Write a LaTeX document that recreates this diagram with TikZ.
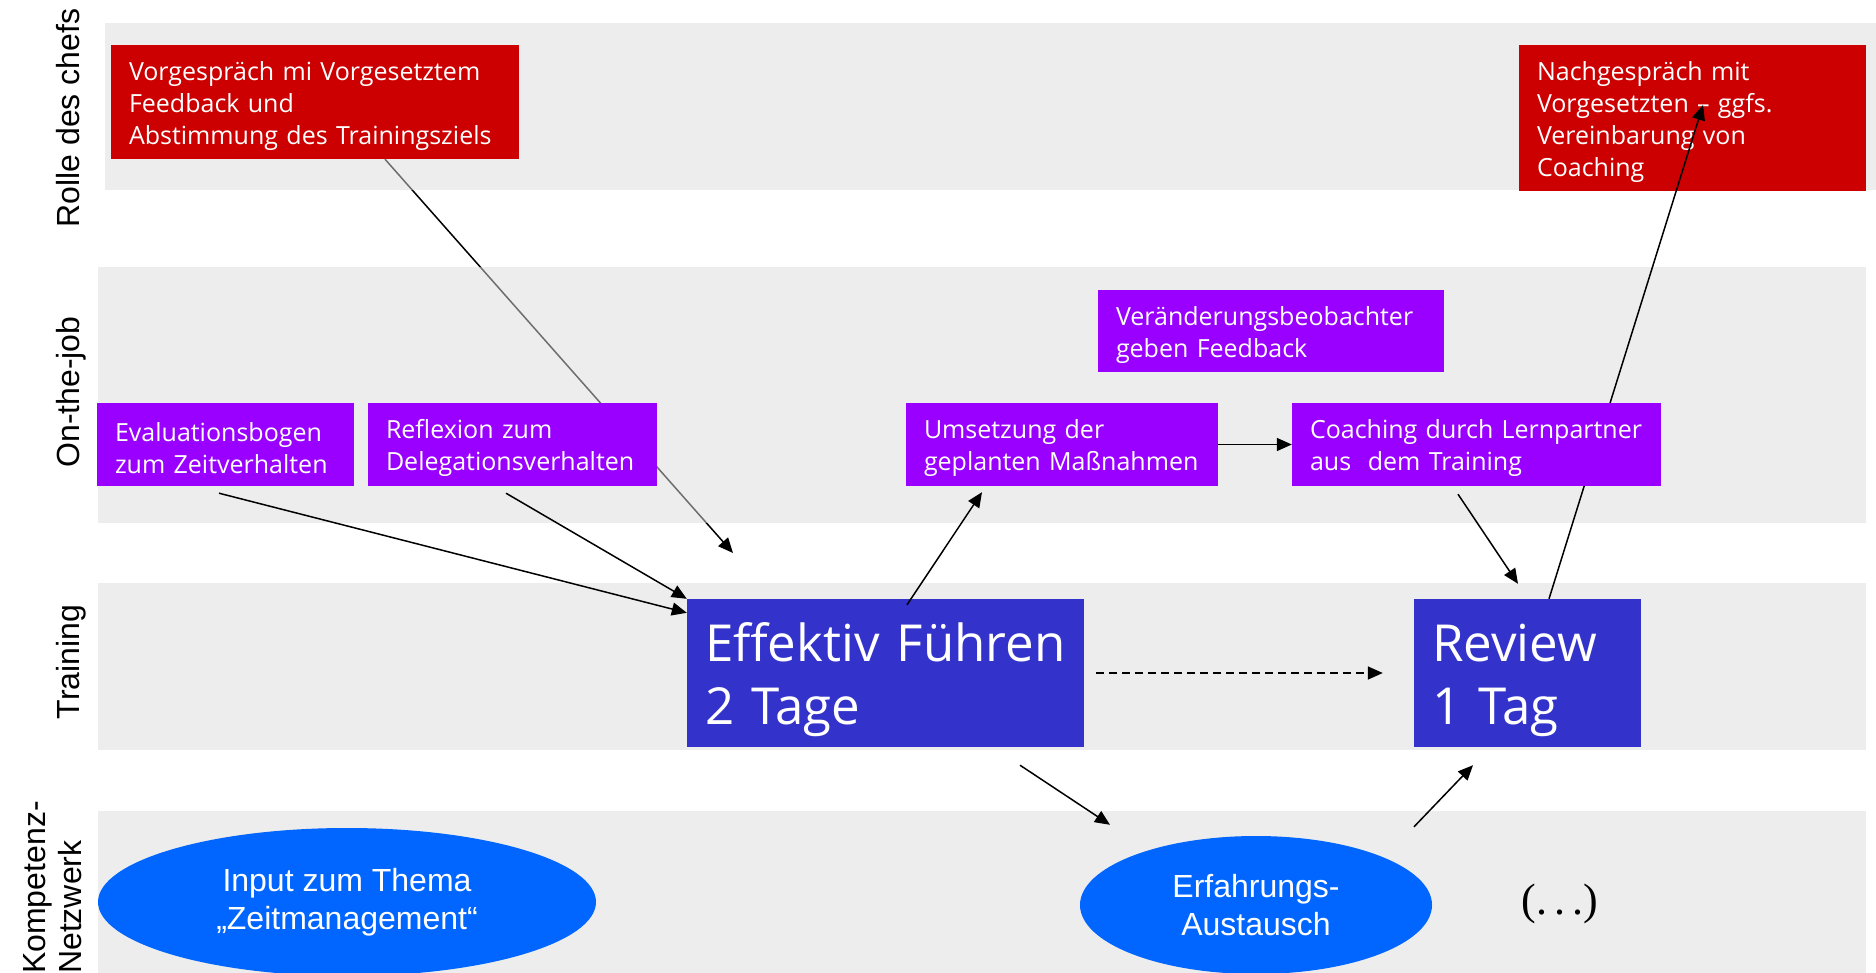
\documentclass[tikz,border=0pt]{standalone}
\usepackage{fontspec}
\usepackage{tikz}
\usetikzlibrary{arrows.meta, calc, shapes.geometric, backgrounds}

\newfontfamily\boxfont{Open Sans}
\newfontfamily\lanefont{Liberation Sans}
\newfontfamily\morefont{Liberation Serif}
\definecolor{chefred}{HTML}{CC0000}
\definecolor{jobviolet}{HTML}{9900FF}
\definecolor{trainblue}{HTML}{3333CC}
\definecolor{netblue}{HTML}{0066FF}
\definecolor{lanegrey}{HTML}{DBDBDB}

\begin{document}
\begin{tikzpicture}[x=1pt, y=-1pt,
	chef/.style={fill=chefred, text=white, align=left, inner xsep=18pt, inner ysep=0pt,
		font=\boxfont\fontsize{25}{32}\selectfont, execute at begin node={\rule{0pt}{27pt}}},
	job/.style={chef, fill=jobviolet},
	course/.style={fill=trainblue, text=white, align=left, inner xsep=18pt, inner ysep=0pt,
		font=\boxfont\fontsize{51}{63}\selectfont, execute at begin node={\rule{0pt}{53pt}}},
	net/.style={ellipse, fill=netblue, text=white, align=center, inner sep=0pt,
		font=\lanefont\fontsize{32}{38}\selectfont},
	lane/.style={fill=lanegrey, fill opacity=.5},
	lanelabel/.style={rotate=90, inner sep=0pt, font=\lanefont\fontsize{32}{36}\selectfont},
	arr/.style={-{Triangle[length=15pt, width=13pt]}, line width=1.5pt}]
	\useasboundingbox (0,0) rectangle (1876,973);
	\clip (0,0) rectangle (1876,973);
	
	% lane titles
	\node[lanelabel, anchor=base] (lchef) at (79,118) {Rolle des chefs};
	\node[lanelabel, anchor=base] (ljob) at (79,392) {On-the-job};
	\node[lanelabel, anchor=base] (ltrain) at (79,662) {Training};
	\node[lanelabel, align=left, anchor=south west] (lnet) at (82,974) {Kompetenz-\\Netzwerk};
	
	\node[chef, text width=372pt, minimum height=114pt] (vgs) at (315,102) {Vorgespräch mi Vorgesetztem\\Feedback und\\Abstimmung des Trainingsziels};
	\node[chef, text width=311pt, minimum height=146pt] (nach) at (1692.5,118) {Nachgespräch mit\\Vorgesetzten – ggfs.\\Vereinbarung von\\Coaching};
	
	\node[job, text width=310pt, minimum height=82pt] (beob) at (1271,331) {Veränderungsbeobachter\\geben Feedback};
	\node[job, text width=221pt, minimum height=83pt] (eval) at (225.5,444.5) {Evaluationsbogen\\zum Zeitverhalten};
	\node[job, text width=253pt, minimum height=83pt] (refl) at (512.5,444.5) {Reflexion zum\\Delegationsverhalten};
	\node[job, text width=276pt, minimum height=83pt] (ums) at (1062,444.5) {Umsetzung der\\geplanten Maßnahmen};
	
	\node[course, text width=361pt, minimum height=148pt] (eff) at (885.5,673) {Effektiv Führen\\2 Tage};
	\node[course, text width=191pt, minimum height=148pt] (rev) at (1527.5,673) {Review\\1 Tag};
	
	\node[net, minimum width=498pt, minimum height=148pt] (inp) at (347,902) {Input zum Thema\\„Zeitmanagement“};
	\node[net, minimum width=352pt, minimum height=138pt] (erf) at (1256,905) {Erfahrungs-\\Austausch};
	\node[font=\morefont\fontsize{44}{52}\selectfont, inner sep=0pt] (more) at (1560,904) {(.\kern7pt.\kern7pt.)};
	
	\coordinate (tipA) at (733,553);
	\coordinate (tipB) at (1703,105);
	
	\draw[arr] ([xshift=21.5pt]rev.north) -- (tipB); % runs behind the coaching box
	\node[job, text width=333pt, minimum height=83pt] (coach) at (1476.5,444.5) {Coaching durch Lernpartner\\aus\ \ dem Training};
	
	\draw[arr] ([xshift=-6.5pt, yshift=-7pt]eval.south) -- ([yshift=-14pt]eff.north west);
	\draw[arr] ([xshift=-6.5pt, yshift=-7pt]refl.south) -- (eff.north west);
	\draw[arr] ([xshift=21.5pt, yshift=-6pt]eff.north) -- ([xshift=-80pt, yshift=-6pt]ums.south);
	\draw[arr] (ums.east) -- (coach.west);
	\draw[arr] ([xshift=-18.5pt, yshift=-8pt]coach.south) -- ([xshift=-9.5pt, yshift=15pt]rev.north);
	\draw[arr, dash pattern=on 8pt off 5pt, shorten <=12pt, shorten >=31pt] (eff.east) -- (rev.west);
	\draw[arr] ([xshift=134.5pt, yshift=-18pt]eff.south) -- ([xshift=-146pt, yshift=11pt]erf.north);
	\draw[arr] ([xshift=158pt, yshift=9pt]erf.north) -- ([xshift=-54.5pt, yshift=-18pt]rev.south);
	
	\begin{pgfonlayer}{background}
		\draw[arr] ([xshift=70pt]vgs.south) -- (tipA);
		\fill[lane] (105,23) rectangle (1876,190);
		\fill[lane] (98,267) rectangle (1866,523);
		\fill[lane] (98,583) rectangle (1866,750);
		\fill[lane] (98,811) rectangle (1866,973);
	\end{pgfonlayer}
	
\end{tikzpicture}
\end{document}
